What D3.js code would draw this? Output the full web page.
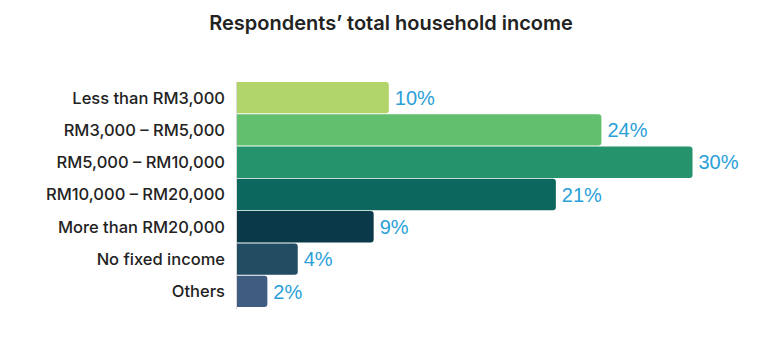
<!DOCTYPE html>
<html>
<head>
<meta charset="utf-8">
<script src="https://cdn.jsdelivr.net/npm/d3@7"></script>
<style>
  body { margin: 0; background: #fff; }
  svg { display: block; font-family: Inter, "Liberation Sans", Arial, sans-serif; }
</style>
</head>
<body>
<div id="chart"></div>
<script>
// data
var categories = ["Less than RM3,000", "RM3,000 – RM5,000", "RM5,000 – RM10,000", "RM10,000 – RM20,000", "More than RM20,000", "No fixed income", "Others"];
var values = [10, 24, 30, 21, 9, 4, 2];
var barColors = ["#b2d56a", "#62bf6e", "#25946d", "#0c675e", "#0a3a4a", "#214c62", "#415c81"];

var W = 779, H = 348;
var margin = { top: 82, right: 87, bottom: 41, left: 237 },
    width = W - margin.left - margin.right,
    height = H - margin.top - margin.bottom;

var svg = d3.select("#chart").append("svg")
    .attr("width", W)
    .attr("height", H);

// title
svg.append("text")
    .attr("x", 391)
    .attr("y", 30)
    .attr("text-anchor", "middle")
    .style("font-size", "20px")
    .style("font-weight", 600)
    .style("fill", "#222")
    .text("Respondents’ total household income");

var g = svg.append("g")
    .attr("transform", "translate(" + margin.left + "," + margin.top + ")");

var x = d3.scaleLinear()
    .domain([0, 30])
    .range([0, 455.5]);

var y = d3.scaleBand()
    .domain(categories)
    .range([0, height])
    .paddingInner(0.03);

var data = categories.map(function(c, i) { return { cat: c, val: values[i], col: barColors[i] }; });

// bar with rounded right corners only
function barPath(d) {
  var w = x(d.val), h = y.bandwidth(), r = 3, y0 = y(d.cat);
  return "M0," + y0 +
    "H" + (w - r) +
    "Q" + w + "," + y0 + " " + w + "," + (y0 + r) +
    "V" + (y0 + h - r) +
    "Q" + w + "," + (y0 + h) + " " + (w - r) + "," + (y0 + h) +
    "H0Z";
}

g.selectAll(".bar")
  .data(data)
  .enter()
  .append("path")
    .attr("class", "bar")
    .attr("d", barPath)
    .style("fill", function(d) { return d.col; });

// faint axis line
g.append("line")
    .attr("x1", -0.5).attr("x2", -0.5)
    .attr("y1", 0).attr("y2", height + 2)
    .style("stroke", "#d8d8d8")
    .style("stroke-width", 1);

// category labels
g.selectAll(".cat")
  .data(data)
  .enter()
  .append("text")
    .attr("x", -12)
    .attr("y", function(d) { return y(d.cat) + y.bandwidth() / 2; })
    .attr("dy", "0.36em")
    .attr("text-anchor", "end")
    .style("font-size", "16.5px")
    .style("font-weight", 500)
    .style("fill", "#222")
    .text(function(d) { return d.cat; });

// value labels
g.selectAll(".val")
  .data(data)
  .enter()
  .append("text")
    .attr("x", function(d) { return x(d.val) + 6; })
    .attr("y", function(d) { return y(d.cat) + y.bandwidth() / 2; })
    .attr("dy", "0.36em")
    .style("font-family", "'Liberation Sans', Arial, sans-serif")
    .style("font-size", "20px")
    .style("fill", "#2a9fd8")
    .text(function(d) { return d.val + "%"; });
</script>
</body>
</html>
